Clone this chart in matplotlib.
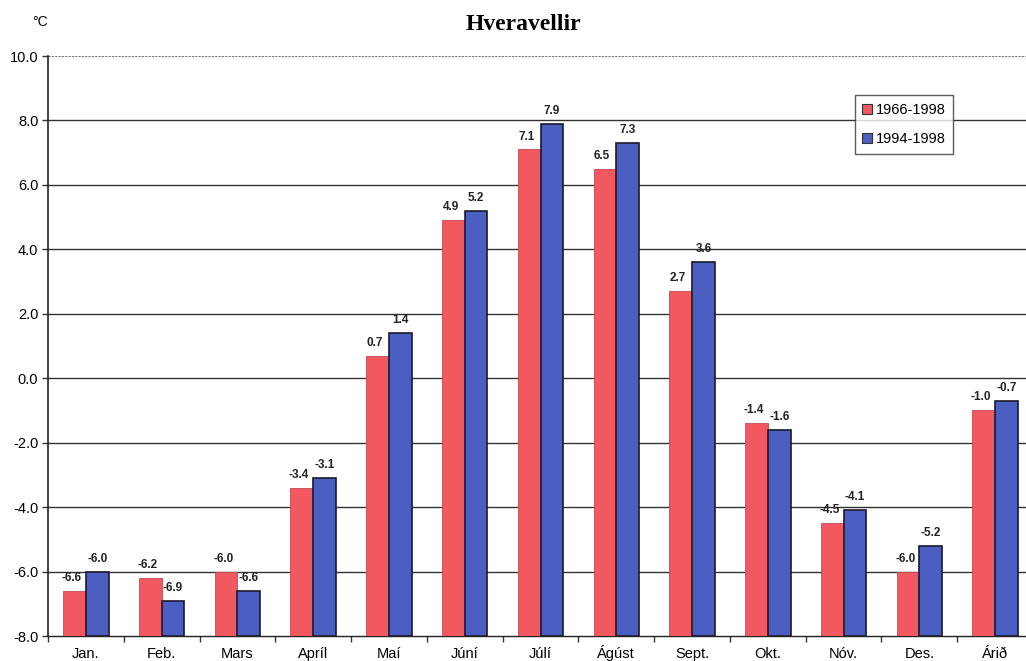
import numpy as np
import matplotlib
matplotlib.use("Agg")
import matplotlib.pyplot as plt
from matplotlib.lines import Line2D

months = ["Jan.", "Feb.", "Mars", "Apríl", "Maí", "Júní", "Júlí",
          "Ágúst", "Sept.", "Okt.", "Nóv.", "Des.", "Árið"]
period_long = [-6.6, -6.2, -6.0, -3.4, 0.7, 4.9, 7.1, 6.5, 2.7, -1.4, -4.5, -6.0, -1.0]
period_short = [-6.0, -6.9, -6.6, -3.1, 1.4, 5.2, 7.9, 7.3, 3.6, -1.6, -4.1, -5.2, -0.7]
series_names = ["1966-1998", "1994-1998"]
yticks = [-8.0, -6.0, -4.0, -2.0, 0.0, 2.0, 4.0, 6.0, 8.0, 10.0]

red = "#F2585F"
blue = "#4B5FC2"
base = -8.0

fig = plt.figure(figsize=(10.26, 6.61), dpi=100)
W, H = 1026, 661
left, right, top, bottom = 48, 1033, 56, 636
ax = fig.add_axes([left / W, 1 - bottom / H, (right - left) / W, (bottom - top) / H])

x = np.arange(len(months))
bw = 0.30
vals_a = np.array(period_long)
vals_b = np.array(period_short)
ax.bar(x - bw / 2, vals_a - base, bw, bottom=base, color=red,
       edgecolor="#c8484f", linewidth=0.6, zorder=3)
ax.bar(x + bw / 2, vals_b - base, bw, bottom=base, color=blue,
       edgecolor="#1a1a2a", linewidth=1.2, zorder=3)

for xi, v in zip(x - bw / 2, vals_a):
    ax.annotate(f"{v:.1f}", (xi, v), xytext=(-2, 5), textcoords="offset points",
                ha="center", va="bottom", fontsize=8.5, fontweight="bold",
                family="Liberation Sans", color="#222222", zorder=5)
for xi, v in zip(x + bw / 2, vals_b):
    ax.annotate(f"{v:.1f}", (xi, v), xytext=(0, 5), textcoords="offset points",
                ha="center", va="bottom", fontsize=8.5, fontweight="bold",
                family="Liberation Sans", color="#222222", zorder=5)

ax.set_xlim(-0.5, len(months) - 0.5)
ax.set_ylim(-8.0, 10.0)
ax.set_yticks(yticks)
ax.set_yticklabels([f"{t:.1f}" for t in yticks], family="Liberation Sans", fontsize=10.5)
for t in yticks[1:-1]:
    ax.axhline(t, color="#333333", linewidth=1.0, zorder=1)
ax.axhline(10.0, color="#777777", linewidth=0.8, linestyle=(0, (2, 1)), zorder=1)

ax.set_xticks(x)
ax.set_xticklabels(months, family="Liberation Sans", fontsize=10.5)
for lab in ax.get_xticklabels():
    lab.set_verticalalignment("baseline")
ax.tick_params(axis="x", length=0, pad=16)
ax.set_xticks(np.arange(-0.5, len(months), 1.0), minor=True)
ax.tick_params(axis="x", which="minor", length=4, width=1, color="#333333")
ax.tick_params(axis="y", length=4, width=1, color="#333333", pad=3)

for s in ["top", "right"]:
    ax.spines[s].set_visible(False)
ax.spines["left"].set_color("#222222")
ax.spines["left"].set_linewidth(1.2)
ax.spines["bottom"].set_color("#222222")
ax.spines["bottom"].set_linewidth(1.0)

fig.text(523 / W, 1 - 25 / H, "Hveravellir", ha="center", va="center",
         family="Liberation Serif", fontweight="bold", fontsize=17)
fig.text(40 / W, 1 - 22 / H, "°C", ha="center", va="center",
         family="Liberation Sans", fontsize=10)

handles = [Line2D([], [], marker="s", linestyle="none", markersize=7,
                  markerfacecolor=red, markeredgecolor="#333333", markeredgewidth=0.8),
           Line2D([], [], marker="s", linestyle="none", markersize=7,
                  markerfacecolor=blue, markeredgecolor="#333333", markeredgewidth=0.8)]
leg = ax.legend(handles, series_names, loc="upper left",
                bbox_to_anchor=((855 - left) / (right - left), 1 - (95 - top) / (bottom - top)),
                borderaxespad=0, frameon=True, fancybox=False, handlelength=0.6,
                handletextpad=0.25, labelspacing=1.0, borderpad=0.55,
                prop={"family": "Liberation Sans", "size": 10.5})
leg.get_frame().set_edgecolor("#333333")
leg.get_frame().set_linewidth(1.0)
leg.set_zorder(6)

fig.savefig("out.png", dpi=100)
